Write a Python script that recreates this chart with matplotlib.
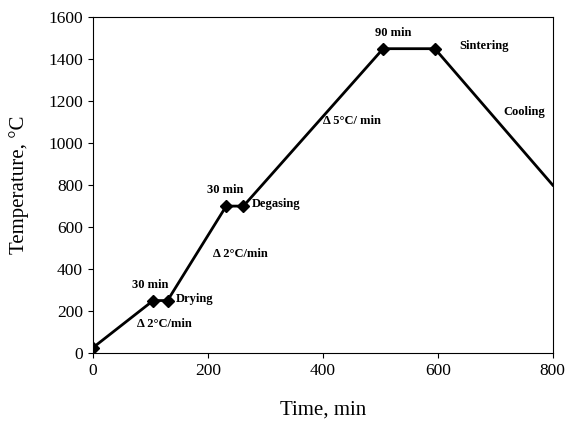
import matplotlib.pyplot as plt

plt.rcParams['font.family'] = ['Liberation Serif', 'DejaVu Serif']

time_min = [0, 105, 130, 232, 262, 505, 595, 800]
temp_c = [25, 250, 250, 700, 700, 1450, 1450, 800]

labels = [("30 min", 99, 324), ("Drying", 177, 257), ("\u0394 2\u00b0C/min", 125, 138),
          ("30 min", 230, 776), ("Degasing", 318, 710), ("\u0394 2\u00b0C/min", 256, 471),
          ("\u0394 5\u00b0C/ min", 450, 1105), ("90 min", 523, 1524),
          ("Sintering", 680, 1462), ("Cooling", 751, 1148)]

fig = plt.figure(figsize=(5.8, 4.3), dpi=100)
ax = fig.add_axes([0.16, 0.179, 0.793, 0.781])
ax.plot(time_min, temp_c, color='black', lw=2)
ax.plot(time_min[:-1], temp_c[:-1], 'D', color='black', ms=6)

for txt, x, y in labels:
    ax.text(x, y, txt, fontsize=9, fontweight='bold', ha='center', va='center')

ax.set_xlim(0, 800)
ax.set_ylim(0, 1600)
ax.set_xticks(range(0, 801, 200))
ax.set_yticks(range(0, 1601, 200))
ax.tick_params(labelsize=12.5)
ax.set_xlabel('Time, min', fontsize=15, labelpad=16)
ax.set_ylabel('Temperature, \u00b0C', fontsize=15, labelpad=14)

fig.savefig('out.png')
